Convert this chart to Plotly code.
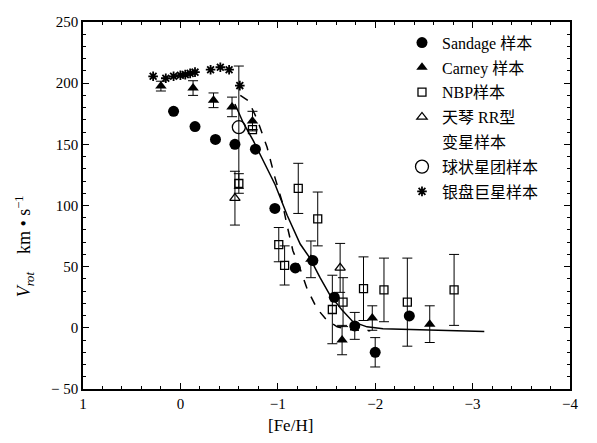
import plotly.graph_objects as go

# ---- data ----
sandage_x = [0.07, -0.15, -0.36, -0.56, -0.77, -0.97, -1.18, -1.36, -1.58, -1.79, -2.00, -2.35]
sandage_y = [177, 164.5, 154, 150, 146, 97.6, 49, 55, 25, 1.6, -20, 9.7]
sandage_e = [0, 0, 0, 0, 0, 0, 0, 0, 0, 11, 12, 0]

carney_x = [0.20, -0.13, -0.34, -0.53, -0.74, -1.34, -1.66, -1.97, -2.56]
carney_y = [197.6, 196, 186, 180.6, 169, 56, -10, 8, 3]
carney_e = [4, 6, 6, 8, 8, 15, 12, 10, 15]

nbp_x = [-0.60, -0.74, -1.01, -1.07, -1.21, -1.41, -1.56, -1.67, -1.88, -2.09, -2.33, -2.81]
nbp_y = [118, 162, 68, 51, 114, 89, 15, 21, 32, 31, 21, 31]
nbp_e = [8, 0, 14, 16, 20.5, 22, 28, 20, 26, 26, 36, 29]

rr_x = [-0.56, -1.64]
rr_y = [106, 49]
rr_e = [22, 20]

gc_x = [-0.60]
gc_y = [164]
gc_e = [50]

disk_x = [0.28, 0.15, 0.07, 0.0, -0.05, -0.10, -0.15, -0.31, -0.41, -0.50, -0.61]
disk_y = [205.6, 204, 205.6, 206.5, 207, 208, 209, 211, 213, 211, 198]

solid_x = [-0.56, -0.645, -0.748, -0.85, -0.973, -1.096, -1.23, -1.33, -1.434, -1.537,
           -1.66, -1.773, -1.916, -2.08, -2.46, -3.12]
solid_y = [183, 167.7, 153, 137, 117, 92, 68.5, 57, 41, 26.6, 14.5, 4.8, 0.8, -0.8, -1.6, -3.0]

dashed_x = [-0.615, -0.70, -0.79, -0.89, -0.97, -1.045, -1.09, -1.155, -1.23, -1.30,
            -1.40, -1.50, -1.61, -1.74, -1.95]
dashed_y = [190, 185.5, 170, 147.6, 123, 103, 85.5, 63, 48, 32, 16, 6.5, 0.8, -1.6, -2.4]

x_tickvals = [1, 0, -1, -2, -3, -4]
x_ticktext = ["1", "0", "−1", "−2", "−3", "−4"]
y_tickvals = [250, 200, 150, 100, 50, 0, -50]
y_ticktext = ["250", "200", "150", "100", "50", "0", "− 50"]

names = ["Sandage 样本", "Carney 样本", "NBP样本", "天琴 RR型", "变星样本", "球状星团样本", "银盘巨星样本"]

FONT = '"Liberation Serif", "DejaVu Serif", "Noto Sans CJK SC", serif'

fig = go.Figure()

fig.add_trace(go.Scatter(x=solid_x, y=solid_y, mode="lines", showlegend=False,
                         line=dict(color="black", width=1.5)))
fig.add_trace(go.Scatter(x=dashed_x, y=dashed_y, mode="lines", showlegend=False,
                         line=dict(color="black", width=1.5, dash="dash")))

def err(arr):
    return dict(type="data", array=arr, visible=True, color="black", thickness=1, width=5)

fig.add_trace(go.Scatter(x=sandage_x, y=sandage_y, mode="markers", name=names[0], legendgroup="a",
                         error_y=err(sandage_e),
                         marker=dict(symbol="circle", size=11, color="black")))
fig.add_trace(go.Scatter(x=carney_x, y=carney_y, mode="markers", name=names[1], legendgroup="b",
                         error_y=err(carney_e),
                         marker=dict(symbol="triangle-up", size=10, color="black")))
fig.add_trace(go.Scatter(x=nbp_x, y=nbp_y, mode="markers", name=names[2], legendgroup="c",
                         error_y=err(nbp_e),
                         marker=dict(symbol="square-open", size=8, color="black", line=dict(width=1.3))))
fig.add_trace(go.Scatter(x=rr_x, y=rr_y, mode="markers", name=names[3], legendgroup="d",
                         error_y=err(rr_e),
                         marker=dict(symbol="triangle-up-open", size=9, color="black", line=dict(width=1.3))))
# second line of the RR Lyrae legend label (legend text only)
fig.add_trace(go.Scatter(x=[None], y=[None], mode="markers", name=names[4], legendgroup="d2",
                         marker=dict(symbol="circle", size=1, color="rgba(0,0,0,0)"),
                         hoverinfo="skip"))
fig.add_trace(go.Scatter(x=gc_x, y=gc_y, mode="markers", name=names[5], legendgroup="e",
                         error_y=err(gc_e),
                         marker=dict(symbol="circle-open", size=13, color="black", line=dict(width=1.3))))
fig.add_trace(go.Scatter(x=disk_x, y=disk_y, mode="markers", name=names[6], legendgroup="f",
                         marker=dict(symbol="asterisk-open", size=8, color="black", line=dict(width=1.8))))

axis_common = dict(showline=True, linecolor="black", linewidth=1.5, mirror="ticks",
                   ticks="inside", ticklen=6, tickwidth=1, tickcolor="black",
                   showgrid=False, zeroline=False,
                   tickfont=dict(family=FONT, size=15, color="black"))

fig.update_xaxes(range=[1, -4], tickvals=x_tickvals, ticktext=x_ticktext,
                 minor=dict(dtick=0.2, ticks="inside", ticklen=3, tickcolor="black", showgrid=False),
                 **axis_common)
fig.update_yaxes(range=[-50, 250], tickvals=y_tickvals, ticktext=y_ticktext,
                 minor=dict(dtick=10, ticks="inside", ticklen=3, tickcolor="black", showgrid=False),
                 **axis_common)

fig.add_annotation(xref="paper", yref="paper", x=-0.15, y=0.39, textangle=-90,
                   text="<i>V</i><sub><i>rot</i></sub>    km • s<sup>−1</sup>", showarrow=False,
                   font=dict(family=FONT, size=18, color="black"))
fig.add_annotation(xref="paper", yref="paper", x=0.427, y=-0.1, yanchor="middle",
                   text="[Fe/H]", showarrow=False,
                   font=dict(family=FONT, size=17, color="black"))

fig.update_layout(
    width=597, height=443,
    margin=dict(l=75, r=35, t=6, b=62),
    paper_bgcolor="white", plot_bgcolor="white",
    font=dict(family=FONT, color="black"),
    legend=dict(x=0.655, y=0.99, xanchor="left", yanchor="top",
                bgcolor="rgba(0,0,0,0)", tracegroupgap=1,
                font=dict(family=FONT, size=16, color="black")),
)

fig.write_html("out.html")
